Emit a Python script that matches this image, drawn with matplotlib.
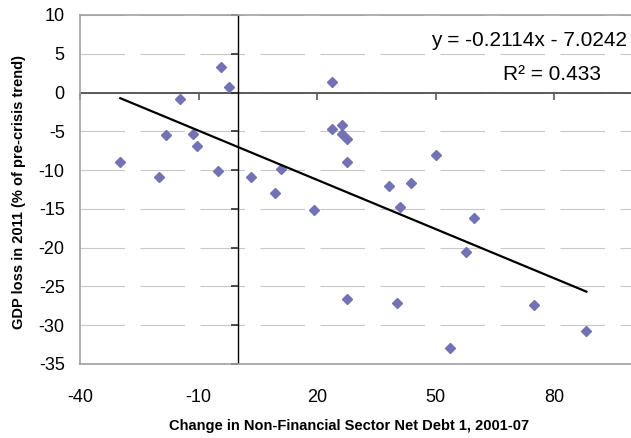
import matplotlib
matplotlib.use("Agg")
import matplotlib.pyplot as plt
import matplotlib.markers as mmarkers
import numpy as np

plt.rcParams["font.family"] = ["Liberation Sans", "DejaVu Sans"]
plt.rcParams["axes.unicode_minus"] = False

# change in non-financial sector net debt, 2001-07
debt_change = [-29.8, -19.9, -18.3, -14.6, -11.5, -10.3, -5.1, -4.4, -2.2, 3.3,
               11.0, 9.3, 19.3, 23.8, 23.8, 26.3, 26.3, 27.5, 27.7, 50.1,
               38.2, 43.7, 41.0, 59.7, 57.6, 27.7, 40.3, 75.0, 88.2, 53.7]
# GDP loss in 2011, % of pre-crisis trend
gdp_loss = [-8.9, -10.9, -5.5, -0.8, -5.3, -6.9, -10.15, 3.3, 0.75, -10.85,
            -9.9, -13.0, -15.1, 1.36, -4.66, -4.14, -5.34, -5.95, -8.95, -8.1,
            -12.1, -11.66, -14.8, -16.2, -20.56, -26.6, -27.1, -27.4, -30.8, -32.9]

SLOPE = -0.2114
INTERCEPT = -7.0242
R2 = 0.433

X_TICKS = [-40, -10, 20, 50, 80]
Y_TICKS = [-35, -30, -25, -20, -15, -10, -5, 0, 5, 10]

W, H = 631, 438
fig = plt.figure(figsize=(W / 100, H / 100), dpi=100)
ax = fig.add_axes([80 / W, 1 - 364 / H, 553 / W, 349 / H])

ax.set_xlim(-40, 100)
ax.set_ylim(-35, 10)
ax.set_xticks(X_TICKS)
ax.set_yticks(Y_TICKS)
ax.tick_params(axis="both", length=0, labelsize=13)
ax.tick_params(axis="x", pad=18)
ax.tick_params(axis="y", pad=11)

for side in ["left", "bottom", "top"]:
    ax.spines[side].set_color("#a0a0a0")
    ax.spines[side].set_linewidth(1.2)
ax.spines["right"].set_visible(False)

ax.yaxis.grid(True, color="#c8c8c8", linewidth=0.8, linestyle=(0, (40, 14)))
ax.set_axisbelow(True)

# axes crossing at zero, with their tick marks
ax.axhline(0, color="#5a5a5a", linewidth=1.4, zorder=2)
ax.axvline(0, color="black", linewidth=1.0, zorder=2)
ax.plot(np.zeros(len(Y_TICKS)), Y_TICKS, linestyle="none", marker=mmarkers.TICKLEFT,
        markersize=5, markeredgewidth=1.2, color="#303030", clip_on=False, zorder=2)
ax.plot(X_TICKS, np.zeros(len(X_TICKS)), linestyle="none", marker=mmarkers.TICKDOWN,
        markersize=5, markeredgewidth=1.2, color="#5a5a5a", clip_on=False, zorder=2)

ax.plot(debt_change, gdp_loss, linestyle="none", marker="D", markersize=5.5,
        color="#7272B4", markeredgecolor="#7272B4", zorder=3)

xs = np.array([min(debt_change), max(debt_change)])
ax.plot(xs, SLOPE * xs + INTERCEPT, color="black", linewidth=1.6, zorder=4)

fig.text(627 / W, 1 - 40 / H, f"y = {SLOPE:.4f}x - {abs(INTERCEPT):.4f}",
         fontsize=15, ha="right", va="center")
fig.text(552 / W, 1 - 75 / H, f"R\u00b2 = {R2:.3f}", fontsize=15, ha="center", va="center")

fig.text(349 / W, 1 - 426 / H, "Change in Non-Financial Sector Net Debt 1, 2001-07",
         fontsize=10.5, fontweight="bold", ha="center", va="center")
fig.text(19 / W, 1 - 192 / H, "GDP loss in 2011 (% of pre-crisis trend)",
         fontsize=10.5, fontweight="bold", ha="center", va="center", rotation=90)

fig.savefig("out.png", dpi=100)
